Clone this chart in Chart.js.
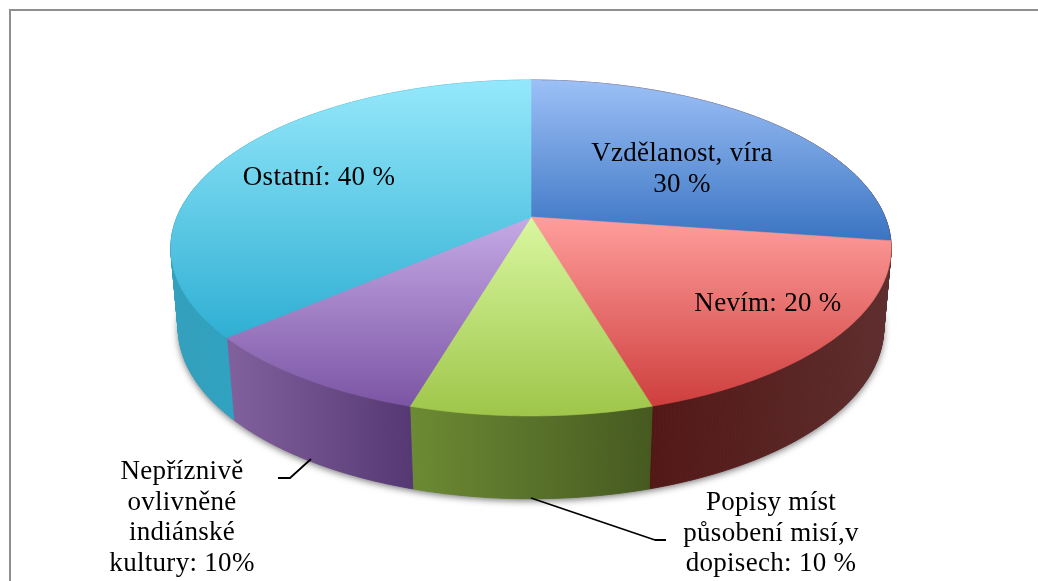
<!DOCTYPE html>
<html><head><meta charset="utf-8">
<style>html,body{margin:0;padding:0;background:#fff;overflow:hidden}canvas{display:block}</style>
<script src="https://cdn.jsdelivr.net/npm/chart.js@4"></script></head>
<body><canvas id="c" width="1038" height="581"></canvas>
<script>
const categories = ['Vzdělanost, víra','Nevím','Popisy míst působení misí,v dopisech','Nepříznivě ovlivněné indiánské kultury','Ostatní'];
const values = [30,20,10,10,40];
const sliceLabels = [['Vzdělanost, víra','30 %'],['Nevím: 20 %'],['Popisy míst','působení misí,v','dopisech: 10 %'],['Nepříznivě','ovlivněné','indiánské','kultury: 10%'],['Ostatní: 40 %']];
const baseColors = ['#4f81bd','#c0504d','#9bbb59','#8064a2','#4bacc6'];
const topLight = ['#9cc0f6','#ff9e9c','#d9f7a0','#c5aae6','#95e8fb'];
const topDark = ['#3a74c2','#ce3f3e','#9fc64a','#7c55a4','#2fafd3'];
const sideLeft = ['#5e2d2d','#521816','#6c8a33','#80609c','#33a0bd'];
const sideRight = ['#5e2d2d','#5e2d2d','#465a20','#553873','#2fa3c2'];

const CX = 531, FONT = '27px "Liberation Serif"';
const topP = {R:354, A:122.2, B:217, k:-0.1845};
const botP = {R:347, A:112, B:297, k:-0.18};
const proj = (p,a) => { const x=Math.sin(a), y=-Math.cos(a), d=1+p.k*y;
  return [CX+p.R*x/d, (p.A*y+p.B)/d]; };
function trace(ctx,p,a0,a1,first){ const n=Math.max(2,Math.ceil((a1-a0)/0.01));
  for(let i=0;i<=n;i++){ const q=proj(p,a0+(a1-a0)*i/n);
    if(i===0&&first) ctx.moveTo(q[0],q[1]); else ctx.lineTo(q[0],q[1]); } }

const labelBoxes = [
  {x:682,y:154},{x:768,y:304},{x:771,y:503},{x:182,y:472},{x:319,y:178}
];
const wallSpan = [[885,885],[651,885],[413,651],[233,413],[175,233]];
const leaders = [null,null,[[531,498],[655,540],[666,540]],[[311,459],[290,478],[278,478]],null];

const pie3d = {
  id:'pie3d',
  beforeDraw(chart){ const c=chart.ctx; c.save(); c.fillStyle='#fff'; c.fillRect(0,0,1038,581);
    c.strokeStyle='#8f8f8f'; c.lineWidth=2; c.beginPath(); c.moveTo(10,581); c.lineTo(10,10); c.lineTo(1038,10); c.stroke(); c.restore(); },
  beforeDatasetsDraw(chart){
    const c=chart.ctx, arcs=chart.getDatasetMeta(0).data;
    const ang=arcs.map(e=>[e.startAngle+Math.PI/2,e.endAngle+Math.PI/2]);
    c.save();
    // soft contact shadow under the base
    c.save(); c.shadowColor='rgba(0,0,0,0.55)'; c.shadowBlur=7; c.shadowOffsetY=2; c.fillStyle='#777';
    c.beginPath(); trace(c,botP,0,Math.PI*2,true); c.closePath(); c.fill(); c.restore();
    // outer walls, strip by strip
    ang.forEach((a,i)=>{
      const g=c.createLinearGradient(wallSpan[i][0],0,wallSpan[i][1]+0.01,0);
      g.addColorStop(0,sideLeft[i]); g.addColorStop(1,sideRight[i]);
      c.fillStyle=g; c.strokeStyle=g; c.lineWidth=0.8;
      const n=Math.ceil((a[1]-a[0])/0.01);
      for(let j=0;j<n;j++){
        const u=a[0]+(a[1]-a[0])*j/n, v=a[0]+(a[1]-a[0])*(j+1)/n;
        const p1=proj(topP,u),p2=proj(topP,v),p3=proj(botP,v),p4=proj(botP,u);
        c.beginPath(); c.moveTo(p1[0],p1[1]); c.lineTo(p2[0],p2[1]); c.lineTo(p3[0],p3[1]); c.lineTo(p4[0],p4[1]); c.closePath(); c.fill(); c.stroke();
      }
    });
    // top faces
    ang.forEach((a,i)=>{
      const ys=[topP.B]; const n=40; for(let j=0;j<=n;j++) ys.push(proj(topP,a[0]+(a[1]-a[0])*j/n)[1]);
      const g=c.createLinearGradient(0,Math.min(...ys),0,Math.max(...ys));
      g.addColorStop(0,topLight[i]); g.addColorStop(1,topDark[i]);
      c.fillStyle=g;
      c.beginPath(); c.moveTo(CX,topP.B); trace(c,topP,a[0],a[1],false); c.closePath(); c.fill();
      c.strokeStyle=g; c.lineWidth=0.6; c.stroke();
    });
    // leader lines
    c.strokeStyle='#000'; c.lineWidth=1.8; c.lineJoin='round';
    leaders.forEach(l=>{ if(!l) return; c.beginPath(); l.forEach((q,j)=>j?c.lineTo(q[0],q[1]):c.moveTo(q[0],q[1])); c.stroke(); });
    // labels
    c.fillStyle='#000'; c.font=FONT; c.textAlign='center'; c.textBaseline='middle'; c.letterSpacing='0.3px';
    sliceLabels.forEach((lines,i)=>lines.forEach((t,j)=>c.fillText(t,labelBoxes[i].x,labelBoxes[i].y+j*30.7)));
    c.restore();
    return false;
  }
};

new Chart(document.getElementById('c'),{
  type:'pie',
  data:{labels:categories,datasets:[{data:values,backgroundColor:baseColors,borderWidth:0}]},
  options:{responsive:false,animation:false,plugins:{legend:{display:false},tooltip:{enabled:false}}},
  plugins:[pie3d]
});
</script></body></html>
